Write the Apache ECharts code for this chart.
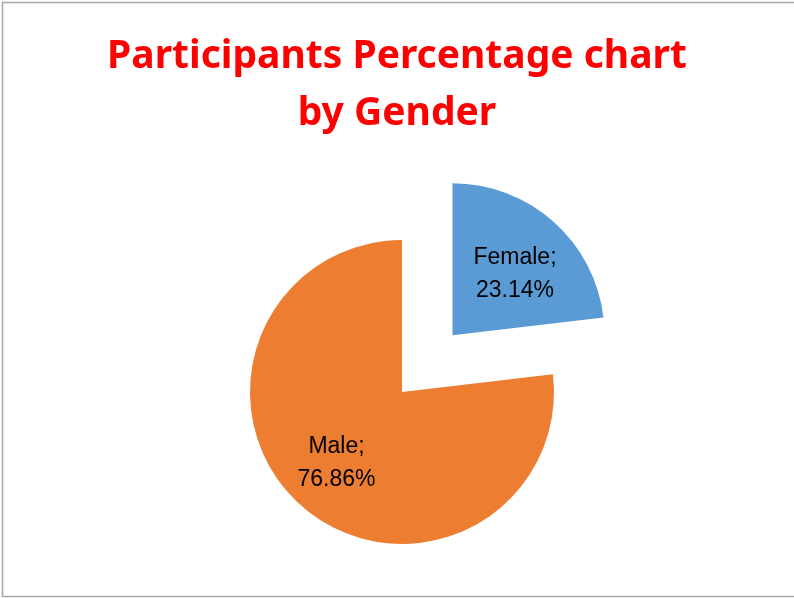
<!DOCTYPE html>
<html>
<head>
<meta charset="utf-8">
<script src="https://cdn.jsdelivr.net/npm/echarts@6/dist/echarts.min.js"></script>
<style>
    html, body { margin: 0; padding: 0; background: #fff; }
    #pie { width: 794px; height: 598px; }
</style>
</head>
<body>
<div id="pie"></div>
<script>
// 数据
var genders = ['Female', 'Male'];
var percents = [23.14, 76.86];
var colors = ['#5B9BD5', '#ED7D31'];

// 标签微调 (Excel 把标签放得比 ECharts 更靠外)
var labelShift = [[10, -2], [-13, 12]];

initBing();

function initBing() {
    var chart = echarts.init(document.getElementById('pie'));
    chart.setOption({
        animation: false,
        title: {
            text: 'Participants Percentage chart\nby Gender',
            left: 'center',
            top: 23,
            textStyle: {
                color: '#FF0000',
                fontFamily: 'Noto Sans',
                fontWeight: 'bold',
                fontSize: 39,
                lineHeight: 57
            }
        },
        graphic: [
            {
                type: 'rect',
                silent: true,
                shape: {x: 2.5, y: 2.5, width: 800, height: 594},
                style: {fill: 'none', stroke: '#a6a6a6', lineWidth: 1.5}
            }
        ],
        series: [
            {
                name: 'Gender',
                type: 'pie',
                center: [402, 392],
                radius: 152,
                startAngle: 90,
                clockwise: true,
                selectedMode: 'single',
                selectedOffset: 76,
                itemStyle: {borderWidth: 0},
                emphasis: {scale: false},
                label: {
                    position: 'inside',
                    formatter: function (p) {
                        return p.name + ';\n' + p.value.toFixed(2) + '%';
                    },
                    color: '#000',
                    fontFamily: 'Liberation Sans',
                    fontSize: 23,
                    lineHeight: 33,
                    align: 'center'
                },
                labelLayout: function (p) {
                    return {dx: labelShift[p.dataIndex][0], dy: labelShift[p.dataIndex][1]};
                },
                data: genders.map(function (g, i) {
                    return {
                        name: g,
                        value: percents[i],
                        selected: i === 0,
                        itemStyle: {color: colors[i]}
                    };
                })
            }
        ]
    });
}
</script>
</body>
</html>
